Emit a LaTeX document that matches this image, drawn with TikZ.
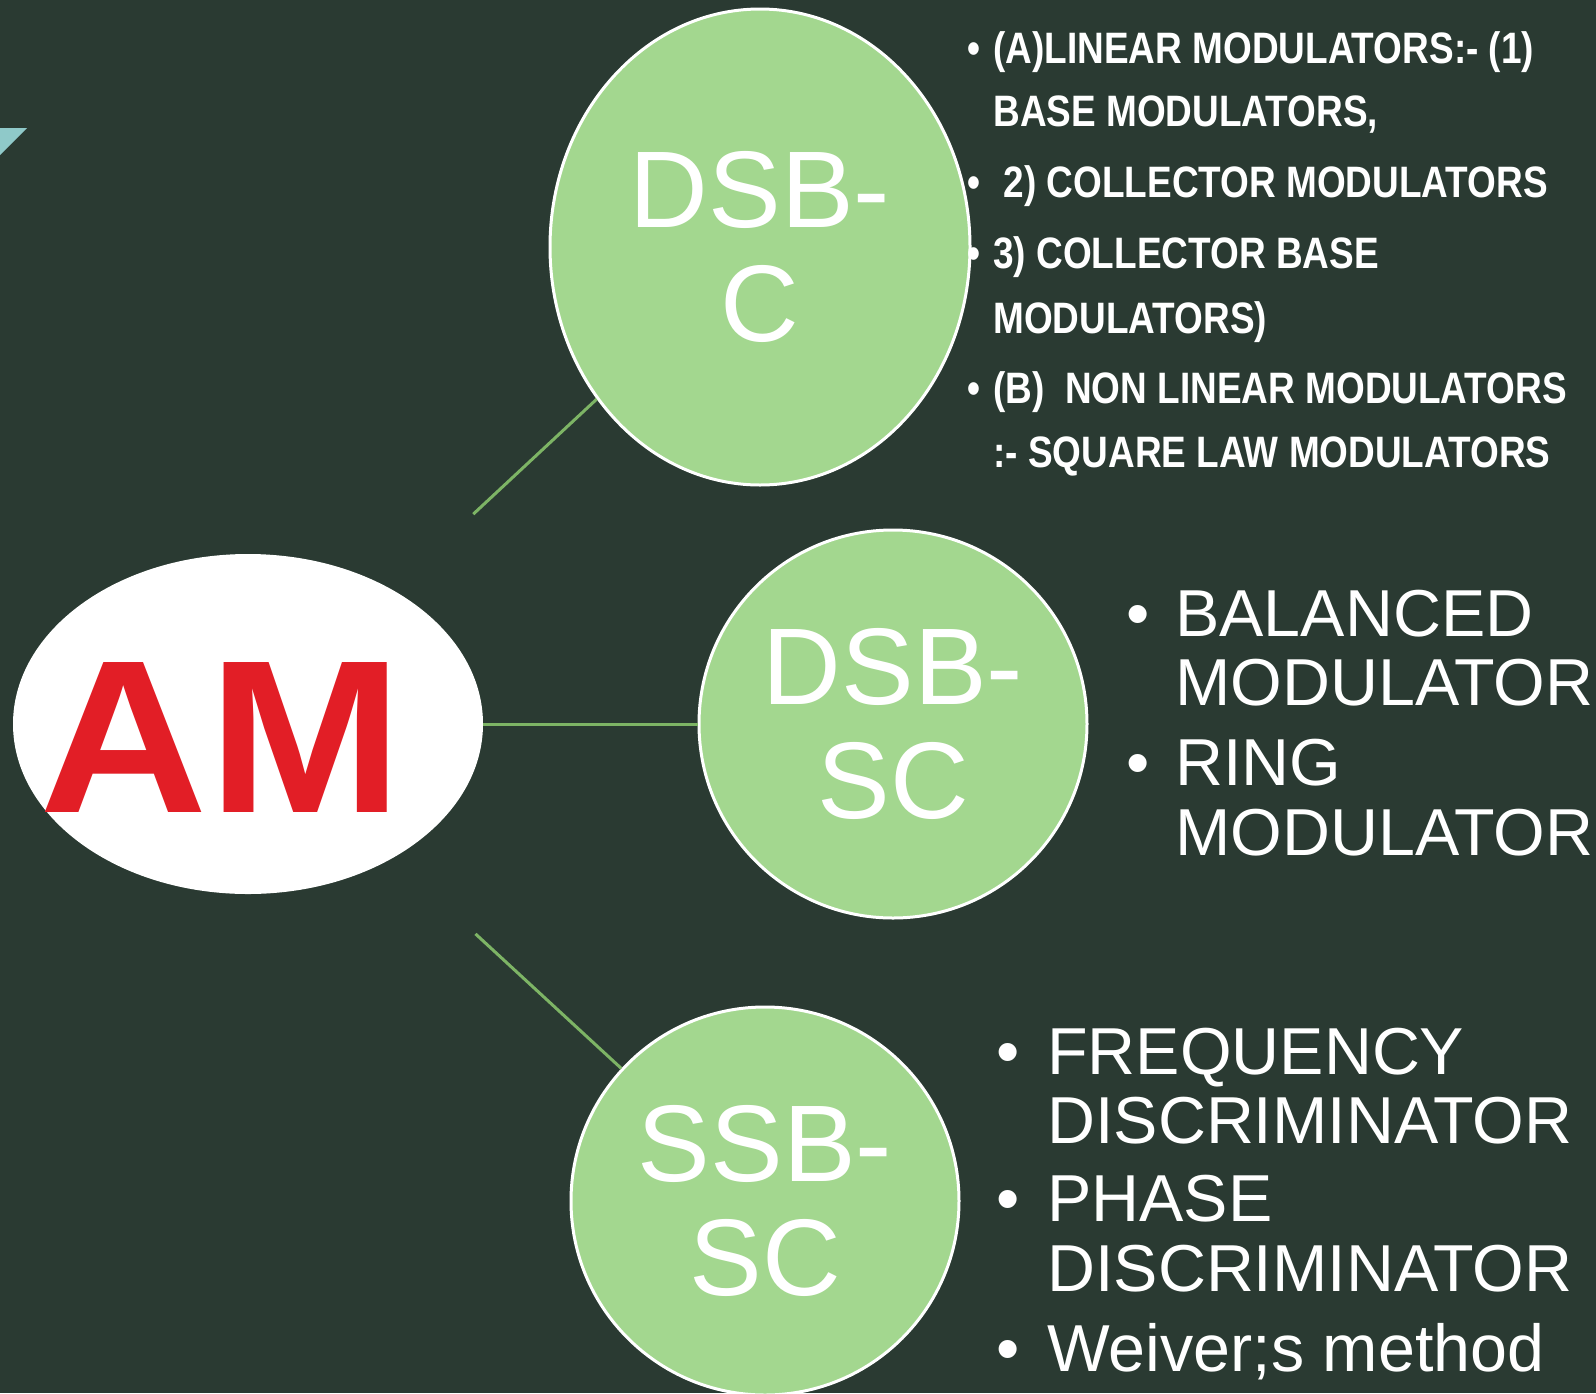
\documentclass[tikz,border=0pt]{standalone}
\usepackage{fontspec}
\setmainfont{Liberation Sans}
\newfontfamily\narrowfont[FakeStretch=0.84]{Liberation Sans}
\newfontfamily\widefont[FakeStretch=1.07]{Liberation Sans}
\usetikzlibrary{shapes.geometric,calc}
\definecolor{slatebg}{HTML}{2A3A32}
\definecolor{leafgreen}{HTML}{A3D78F}
\definecolor{linkgreen}{HTML}{7DB465}
\definecolor{amred}{HTML}{E21E26}
\definecolor{cornerteal}{HTML}{8FC9C9}

\begin{document}
\begin{tikzpicture}[x=0.5pt, y=-0.5pt,
                    every node/.style={white},
                    bubble/.style={ellipse, fill=leafgreen, draw=white, line width=1.5pt,
                                   inner sep=0pt, align=center,
                                   font=\fontsize{54.5}{57}\selectfont},
                    link/.style={linkgreen, line width=1.5pt},
                    bigitem/.style={anchor=base west, inner sep=0pt,
                                    font=\fontsize{33.2}{35}\selectfont},
                    bigdot/.style={anchor=base, inner sep=0pt,
                                   font=\fontsize{33.2}{35}\selectfont},
                    smallitem/.style={anchor=base west, inner sep=0pt,
                                      font=\narrowfont\bfseries\fontsize{22}{24}\selectfont},
                    smalldot/.style={anchor=base, inner sep=0pt,
                                     font=\narrowfont\bfseries\fontsize{22}{24}\selectfont}]

  %% slide background and corner mark
  \fill[slatebg] (0,0) rectangle (1596,1393);
  \useasboundingbox (0,0) rectangle (1596,1393);
  \fill[cornerteal] (0,128) -- (27,128) -- (0,155) -- cycle;

  %% central AM oval
  \node[ellipse, fill=white, inner sep=0pt,
        minimum width=235pt, minimum height=170pt] (am) at (248,724) {};
  \node[amred, anchor=base, inner sep=0pt,
        font=\widefont\bfseries\fontsize{109}{112}\selectfont] (amlabel) at (221,812) {AM};

  %% the three branches
  \node[bubble, minimum width=210pt, minimum height=238pt] (dsbc) at (760,247) {DSB-\\C};
  \node[bubble, minimum width=194pt, minimum height=194pt] (dsbsc) at (893,724) {DSB-\\SC};
  \node[bubble, minimum width=194pt, minimum height=194pt] (ssbsc) at (765,1201) {SSB-\\SC};

  %% connectors, the slanted ones start away from the oval
  \coordinate (upfoot) at ($(am)!0.44!(dsbc)$);
  \coordinate (downfoot) at ($(am)!0.44!(ssbsc)$);
  \draw[link] (upfoot) -- (dsbc);
  \draw[link] (am) -- (dsbsc);
  \draw[link] (downfoot) -- (ssbsc);

  %% DSB-C modulators
  \node[smalldot] (cd1) at (974,63) {•};
  \node[smallitem] (cl1) at (993,63) {(A)LINEAR MODULATORS:- (1)};
  \node[smallitem] (cl2) at (993,126) {BASE MODULATORS,};
  \node[smalldot] (cd2) at (974,197) {•};
  \node[smallitem] (cl3) at (993,197) {\ 2) COLLECTOR MODULATORS};
  \node[smalldot] (cd3) at (974,268) {•};
  \node[smallitem] (cl4) at (993,268) {3) COLLECTOR BASE};
  \node[smallitem] (cl5) at (993,333) {MODULATORS)};
  \node[smalldot] (cd4) at (974,403) {•};
  \node[smallitem] (cl6) at (993,403) {(B)\ \ NON LINEAR MODULATORS};
  \node[smallitem] (cl7) at (993,467) {:- SQUARE LAW MODULATORS};

  %% DSB-SC modulators
  \node[bigdot] (md1) at (1138,636) {•};
  \node[bigitem] (ml1) at (1175,636) {BALANCED};
  \node[bigitem] (ml2) at (1175,705) {MODULATOR};
  \node[bigdot] (md2) at (1138,785) {•};
  \node[bigitem] (ml3) at (1175,785) {RING};
  \node[bigitem] (ml4) at (1175,855) {MODULATOR};

  %% SSB-SC methods
  \node[bigdot] (sd1) at (1008,1074) {•};
  \node[bigitem] (sl1) at (1047,1074) {FREQUENCY};
  \node[bigitem] (sl2) at (1047,1143) {DISCRIMINATOR};
  \node[bigdot] (sd2) at (1008,1221) {•};
  \node[bigitem] (sl3) at (1047,1221) {PHASE};
  \node[bigitem] (sl4) at (1047,1291) {DISCRIMINATOR};
  \node[bigdot] (sd3) at (1008,1371) {•};
  \node[bigitem] (sl5) at (1047,1371) {Weiver;s method};

\end{tikzpicture}
\end{document}
